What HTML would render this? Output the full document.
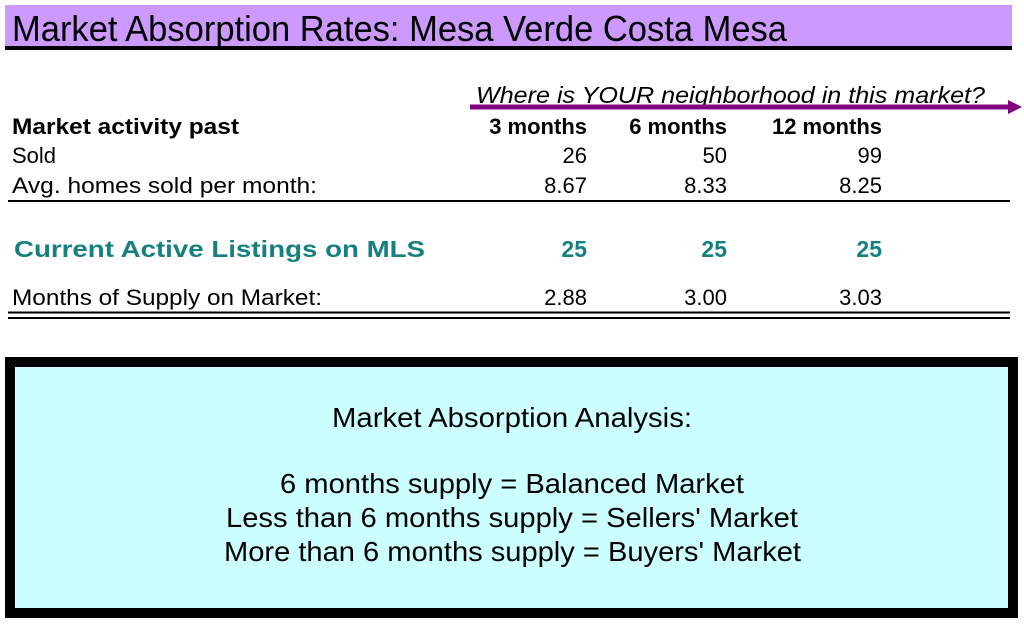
<!DOCTYPE html>
<html><head><meta charset="utf-8"><style>
html,body{margin:0;padding:0;background:#fff;width:1024px;height:624px;overflow:hidden}
svg{display:block;font-family:"Liberation Sans",Arial,sans-serif}
</style></head><body>
<svg width="1024" height="624" viewBox="0 0 1024 624">
<rect x="5" y="5" width="1007" height="42" fill="#cc99ff"/>
<rect x="5" y="46" width="1007" height="4" fill="#000"/>
<text x="12" y="41" font-size="36" textLength="775" lengthAdjust="spacingAndGlyphs">Market Absorption Rates:  Mesa Verde Costa Mesa</text>

<text x="476" y="103" font-size="23" font-style="italic" textLength="509" lengthAdjust="spacingAndGlyphs">Where is YOUR neighborhood in this market?</text>
<line x1="470" y1="107" x2="1010" y2="107" stroke="#800080" stroke-width="5"/>
<polygon points="1008,100 1022,107 1008,114" fill="#800080"/>

<g font-size="22">
<text x="12" y="134" font-weight="bold" textLength="227" lengthAdjust="spacingAndGlyphs">Market activity past</text>
<text x="587" y="134" font-weight="bold" text-anchor="end">3 months</text>
<text x="727" y="134" font-weight="bold" text-anchor="end">6 months</text>
<text x="882" y="134" font-weight="bold" text-anchor="end">12 months</text>

<text x="12" y="163">Sold</text>
<text x="587" y="163" text-anchor="end">26</text>
<text x="727" y="163" text-anchor="end">50</text>
<text x="882" y="163" text-anchor="end">99</text>

<text x="12" y="193" textLength="305" lengthAdjust="spacingAndGlyphs">Avg. homes sold per month:</text>
<text x="587" y="193" text-anchor="end">8.67</text>
<text x="727" y="193" text-anchor="end">8.33</text>
<text x="882" y="193" text-anchor="end">8.25</text>
<line x1="8" y1="201" x2="1010" y2="201" stroke="#000" stroke-width="2"/>

<g fill="#168080" font-weight="bold" font-size="23">
<text x="14" y="257" textLength="411" lengthAdjust="spacingAndGlyphs">Current Active Listings on MLS</text>
<text x="587" y="257" text-anchor="end">25</text>
<text x="727" y="257" text-anchor="end">25</text>
<text x="882" y="257" text-anchor="end">25</text>
</g>

<text x="12" y="305" textLength="310" lengthAdjust="spacingAndGlyphs">Months of Supply on Market:</text>
<text x="587" y="305" text-anchor="end">2.88</text>
<text x="727" y="305" text-anchor="end">3.00</text>
<text x="882" y="305" text-anchor="end">3.03</text>
<line x1="8" y1="312.5" x2="1010" y2="312.5" stroke="#000" stroke-width="2"/>
<line x1="8" y1="318" x2="1010" y2="318" stroke="#000" stroke-width="2"/>
</g>

<rect x="10" y="362" width="1003" height="251" fill="#ccffff" stroke="#000" stroke-width="10"/>
<g font-size="28">
<text x="332" y="427" textLength="360" lengthAdjust="spacingAndGlyphs">Market Absorption Analysis:</text>
<text x="280" y="493" textLength="464" lengthAdjust="spacingAndGlyphs">6 months supply = Balanced Market</text>
<text x="226" y="527" textLength="572" lengthAdjust="spacingAndGlyphs">Less than 6 months supply = Sellers' Market</text>
<text x="224" y="561" textLength="577" lengthAdjust="spacingAndGlyphs">More than 6 months supply = Buyers' Market</text>
</g>
</svg>
</body></html>
